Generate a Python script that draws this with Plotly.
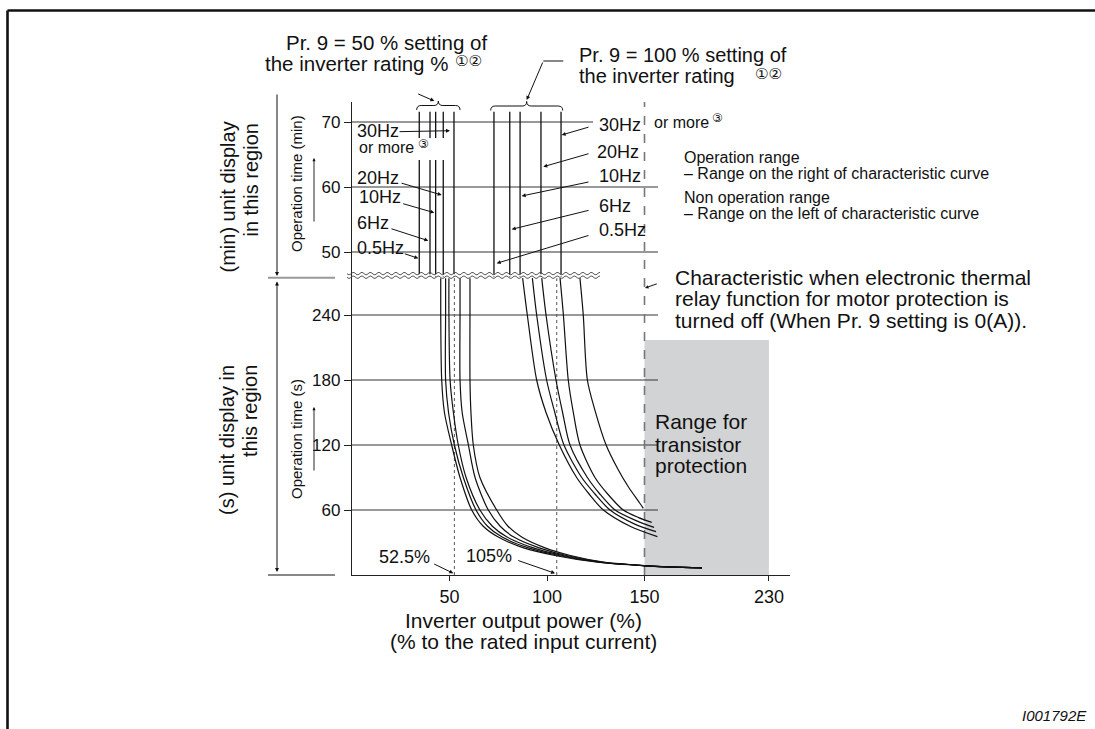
import math
import plotly.graph_objects as go

# ---------------- data ----------------
x_tick_labels = ["50", "100", "150", "230"]
x_tick_positions = [50, 100, 150, 213.8]      # 230 drawn on the compressed part of the axis
sec_ticks = [60, 120, 180, 240]               # operation time (s), lower region
min_ticks = [50, 60, 70]                      # operation time (min), upper region

# upper (min) region: vertical characteristic lines (% output)
left_vlines = [34.5, 40.0, 42.9, 46.8, 52.3]      # Pr.9 = 50 %
right_vlines = [72.8, 80.9, 86.2, 96.9, 107.2]    # Pr.9 = 100 %

# lower (s) region: Pr.9 = 50 % curves (time in s)
left_t = [274, 240, 180, 150, 120, 90, 60, 45, 35, 25, 18, 12, 8.5, 6.5]
left_curves = [
    [45.5, 45.5, 46.0, 47.4, 51.1, 55.4, 61.4, 67.3, 75.0, 88.0, 104.0, 125.0, 150.0, 179.5],
    [48.0, 48.0, 48.0, 49.5, 52.5, 57.1, 63.6, 69.5, 77.0, 90.5, 106.0, 126.0, 150.5, 179.5],
    [49.7, 49.7, 50.3, 52.0, 54.5, 58.5, 65.6, 72.0, 79.5, 93.0, 108.0, 127.0, 151.0, 179.5],
    [55.4, 55.4, 55.4, 56.5, 59.7, 63.1, 69.9, 76.0, 83.0, 96.0, 110.0, 128.0, 151.5, 179.5],
    [60.5, 60.5, 60.5, 61.0, 62.2, 65.6, 74.2, 80.0, 87.0, 99.0, 112.0, 129.0, 152.0, 179.5],
]
# Pr.9 = 100 % curves
right_curves = [
    ([87.5, 89.9, 94.7, 99.5, 106.3, 115.2, 121.5, 128.9, 142.6, 156.6],
     [274, 240, 180, 150, 120, 90, 75, 60, 45, 35.4]),
    ([92.5, 94.7, 99.8, 104.0, 108.7, 117.8, 124.5, 132.3, 145.0, 155.9],
     [274, 240, 180, 150, 120, 90, 75, 60, 47, 40.0]),
    ([97.3, 99.5, 104.6, 108.0, 111.8, 120.7, 127.0, 134.9, 146.0, 154.9],
     [274, 240, 180, 150, 120, 90, 75, 60, 50, 44.0]),
    ([106.7, 108.4, 110.9, 113.5, 116.9, 124.6, 131.0, 139.1, 147.0, 153.7],
     [274, 240, 180, 150, 120, 90, 75, 60, 53, 48.6]),
    ([116.9, 118.6, 120.7, 124.6, 130.3, 136.6, 141.7, 147.7, 149.4],
     [274, 240, 180, 152, 120, 97, 81.5, 66, 61.5]),
]
marker_pcts = [52.5, 105]        # dotted reference lines
thermal_off_pct = 150            # dashed line
transistor_range = (150, 213.8, 217)   # x from, x to (display), top (s)

# ---------------- geometry ----------------
W, H = 1095, 729
PL, PR, PT, PB = 352, 790, 102, 575
SX = 1.95            # px per %
SY = 65 / 60         # px per second
XMAX = (PR - PL) / SX
YMAX = (PB - PT) / SY
U_BREAK = 275
U_TOP = (PB - 111.7) / SY


def min_to_u(m):
    return (PB - 252) / SY + 6 * (m - 50)


def P(px, py):
    return (px - PL) / (PR - PL), (PB - py) / (PB - PT)


FONT = "Liberation Sans, Arial, Helvetica, sans-serif"
SYMFONT = "DejaVu Sans, Noto Sans CJK JP, sans-serif"
fig = go.Figure()

# transistor protection area
x0, x1, top = transistor_range
fig.add_trace(go.Scatter(x=[x0, x1, x1, x0, x0], y=[0, 0, top, top, 0], fill="toself",
                         fillcolor="#d1d3d4", line=dict(width=0), mode="lines",
                         hoverinfo="skip", showlegend=False))

# grid lines (drawn as traces)
grid_end = 156.9
for s in sec_ticks:
    fig.add_trace(go.Scatter(x=[0, grid_end], y=[s, s], mode="lines",
                             line=dict(color="#333", width=1), showlegend=False, hoverinfo="skip"))
for m in min_ticks:
    xe = grid_end if m < 70 else 123.6
    u = min_to_u(m)
    fig.add_trace(go.Scatter(x=[0, xe], y=[u, u], mode="lines",
                             line=dict(color="#333", width=1), showlegend=False, hoverinfo="skip"))

# dotted reference lines
for p in marker_pcts:
    fig.add_trace(go.Scatter(x=[p, p], y=[0, 274], mode="lines",
                             line=dict(color="#555", width=1, dash="dot"), showlegend=False, hoverinfo="skip"))
# dashed thermal-off characteristic
fig.add_trace(go.Scatter(x=[thermal_off_pct, thermal_off_pct], y=[0, YMAX], mode="lines",
                         line=dict(color="#777", width=1.6, dash="dash"), showlegend=False, hoverinfo="skip"))

# upper vertical lines
for v in left_vlines + right_vlines:
    fig.add_trace(go.Scatter(x=[v, v], y=[U_BREAK, U_TOP], mode="lines",
                             line=dict(color="#111", width=1.3), showlegend=False, hoverinfo="skip"))

# curves
for c in left_curves:
    fig.add_trace(go.Scatter(x=c, y=left_t, mode="lines",
                             line=dict(color="#111", width=1.2, shape="spline", smoothing=0.8),
                             showlegend=False, hoverinfo="skip"))
for cx, cy in right_curves:
    fig.add_trace(go.Scatter(x=cx, y=cy, mode="lines",
                             line=dict(color="#111", width=1.2, shape="spline", smoothing=0.8),
                             showlegend=False, hoverinfo="skip"))

shapes = []


def line(px1, py1, px2, py2, color="#111", width=1.0):
    a, b = P(px1, py1)
    c, d = P(px2, py2)
    shapes.append(dict(type="line", xref="paper", yref="paper", x0=a, y0=b, x1=c, y1=d,
                       line=dict(color=color, width=width), layer="above"))


def rect(px1, py1, px2, py2, fill="white"):
    a, b = P(px1, py1)
    c, d = P(px2, py2)
    shapes.append(dict(type="rect", xref="paper", yref="paper", x0=a, y0=b, x1=c, y1=d,
                       fillcolor=fill, line=dict(width=0), layer="above"))


def path(segs, width=1.0, color="#111"):
    parts = []
    for cmd, pts in segs:
        parts.append(cmd + " " + " ".join("%.5f,%.5f" % P(x, y) for x, y in pts))
    shapes.append(dict(type="path", xref="paper", yref="paper", path=" ".join(parts),
                       line=dict(color=color, width=width), layer="above"))


# white gap behind "or more" on the left
rect(355, 138, 447, 160)

# break (wavy) lines
rect(353, 274.3, 600, 276.6)
for base in (273.6, 277.2):
    segs = []
    x = 347.0
    first = True
    while x <= 600:
        pt = (x, base + 1.2 * math.sin(2 * math.pi * (x - 347) / 8.5))
        segs.append(("M" if first else "L", [pt]))
        first = False
        x += 1.0
    path(segs, width=0.9, color="#444")


def brace(x0, x1, y, h=4.5):
    xm = (x0 + x1) / 2
    path([("M", [(x0, y + h)]), ("Q", [(x0, y), (x0 + h, y)]), ("L", [(xm - h, y)]),
          ("Q", [(xm, y), (xm, y - h)]), ("Q", [(xm, y), (xm + h, y)]), ("L", [(x1 - h, y)]),
          ("Q", [(x1, y), (x1, y + h)])], width=1.0)


brace(416.7, 460, 105.5)
brace(490.7, 562.7, 106)
line(563.3, 61, 543.3, 61)

# frame
line(7.5, 10.5, 1095, 10.5, width=2.6)
line(7.5, 10.5, 7.5, 729, width=2.6)

# left dimension lines
line(268, 575, 335, 575, width=1.0)
line(268, 277.7, 335, 277.7, color="#999", width=2.0)

ann = []


def text(s, px, py, size, xa="left", ya="middle", angle=0, italic=False, family=FONT):
    a, b = P(px, py)
    ann.append(dict(xref="paper", yref="paper", x=a, y=b, text=s, showarrow=False,
                    xanchor=xa, yanchor=ya, textangle=angle,
                    font=dict(size=size, family=family, color="#111",
                              style="italic" if italic else "normal")))


def arrow(tip, tail, head=2, size=1.0, width=1.0, both=False):
    a, b = P(*tip)
    ann.append(dict(xref="paper", yref="paper", x=a, y=b, ax=tail[0] - tip[0], ay=tail[1] - tip[1],
                    text="", showarrow=True, arrowhead=head, startarrowhead=head, arrowsize=size,
                    arrowwidth=width, arrowcolor="#111", arrowside="end+start" if both else "end"))


# headings
text("Pr. 9 = 50 % setting of", 386, 43, 20.5, xa="center")
text("the inverter rating %", 263, 64, 20.5)
text("①②", 468, 61, 15, xa="center", family=SYMFONT)
text("Pr. 9 = 100 % setting of", 577, 55, 20)
text("the inverter rating", 577, 76, 20)
text("①②", 768, 74, 15, xa="center", family=SYMFONT)
arrow((434.3, 101), (416.7, 93.3), size=0.8)
arrow((526.7, 100), (543.3, 61), size=0.8)

# left group labels
text("30Hz", 355, 131, 18)
text("or more", 357, 147, 16)
text("③", 423.5, 143.5, 12, xa="center", family=SYMFONT)
text("20Hz", 355, 177.5, 18)
text("10Hz", 357, 196.5, 18)
text("6Hz", 355, 222.5, 18)
text("0.5Hz", 355, 248.5, 18)
arrow((450, 130.7), (398, 131.7), size=0.8)
arrow((441.7, 195), (400, 182.7), size=0.8)
arrow((434.3, 212.7), (401.7, 203.3), size=0.8)
arrow((428.3, 240.7), (390, 228.3), size=0.8)
arrow((418.3, 258.3), (403.3, 253.3), size=0.8)

# right group labels
text("30Hz", 597, 125, 18)
text("20Hz", 595, 151.5, 18)
text("10Hz", 597, 176, 18)
text("6Hz", 597, 206, 18)
text("0.5Hz", 597, 230.5, 18)
arrow((561.7, 135), (590, 126.7), size=0.8)
arrow((543.3, 166.7), (590, 153.3), size=0.8)
arrow((521.7, 196), (590, 181.7), size=0.8)
arrow((511.7, 229.3), (590, 210), size=0.8)
arrow((496.7, 263.3), (590, 235), size=0.8)
text("or more", 652, 122.5, 16)
text("③", 717.5, 118, 12, xa="center", family=SYMFONT)

text("Operation range", 681.7, 157.5, 16)
text("– Range on the right of characteristic curve", 681.7, 173.5, 16)
text("Non operation range", 681.7, 197.5, 16)
text("– Range on the left of characteristic curve", 681.7, 213, 16)

text("Characteristic when electronic thermal", 673, 277.5, 21)
text("relay function for motor protection is", 673, 298, 21)
text("turned off (When Pr. 9 setting is 0(A)).", 673, 320, 21)
arrow((645, 288), (658.3, 283.3), size=0.7)

text("Range for", 653, 421.7, 21)
text("transistor", 653, 444, 21)
text("protection", 653, 465.8, 21)

text("52.5%", 404, 556.5, 18, xa="center")
text("105%", 489, 555.5, 18, xa="center")
arrow((453.3, 573.3), (432.7, 563.3), size=0.8)
arrow((555, 573.3), (516.7, 560), size=0.8)

text("Inverter output power (%)", 523.3, 620, 21, xa="center")
text("(% to the rated input current)", 523.3, 641.7, 21, xa="center")

# left side
text("(min) unit display", 227, 120, 20, xa="center", ya="top", angle=-90)
text("in this region", 250, 122, 20, xa="center", ya="top", angle=-90)
text("(s) unit display in", 227, 363, 20, xa="center", ya="top", angle=-90)
text("this region", 250, 363, 20, xa="center", ya="top", angle=-90)
text("Operation time (min)", 296, 184, 15, xa="center", angle=-90)
text("Operation time (s)", 296, 439, 15, xa="center", angle=-90)
arrow((314, 158), (314, 223), size=0.7, width=0.9)
arrow((314, 407), (314, 472), size=0.7, width=0.9)
arrow((277, 276), (277, 93), size=0.8)
arrow((277, 572), (277, 280), size=0.8, both=True)

text("I001792E", 1089, 715, 15, xa="right", italic=True)

y_vals = sec_ticks + [min_to_u(m) for m in min_ticks]
y_text = [str(s) for s in sec_ticks] + [str(m) for m in min_ticks]

fig.update_layout(
    width=W, height=H, autosize=False,
    margin=dict(l=PL, r=W - PR, t=PT, b=H - PB, pad=0),
    paper_bgcolor="white", plot_bgcolor="white",
    font=dict(family=FONT, color="#111"),
    showlegend=False,
    shapes=shapes, annotations=ann,
    xaxis=dict(range=[0, XMAX], showline=True, linecolor="#222", linewidth=1.3,
               ticks="outside", ticklen=5, tickcolor="#222", tickvals=x_tick_positions,
               ticktext=x_tick_labels, tickfont=dict(size=18), showgrid=False, zeroline=False,
               fixedrange=True),
    yaxis=dict(range=[0, YMAX], showline=True, linecolor="#222", linewidth=1.3,
               ticks="outside", ticklen=7, tickcolor="#222", tickvals=y_vals, ticktext=y_text,
               tickfont=dict(size=17), showgrid=False, zeroline=False, fixedrange=True),
)

fig.write_html("out.html", config={"displayModeBar": False},
               post_script="document.body.style.margin='0';document.body.style.padding='0';"
                           "document.body.style.overflow='hidden';")
